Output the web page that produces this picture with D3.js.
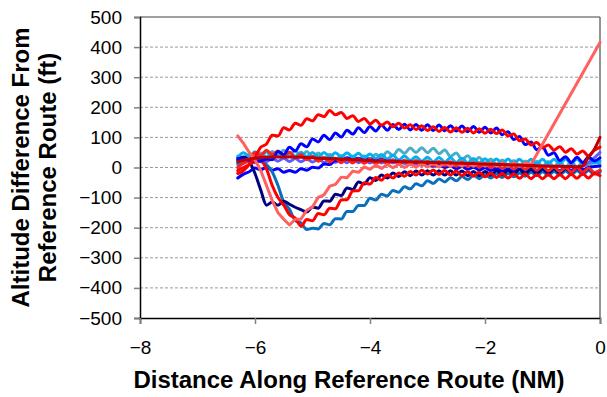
<!DOCTYPE html>
<html>
<head>
<meta charset="utf-8">
<script src="https://cdn.jsdelivr.net/npm/d3@7"></script>
<style>
  html, body { margin: 0; padding: 0; background: #fff; }
  svg { display: block; }
  text { font-family: 'Liberation Sans', Arial, sans-serif; fill: #000; }
</style>
</head>
<body>
<div id="chart"></div>
<script>
const WIDTH = 607
const HEIGHT = 397
const MARGIN = { top: 17, right: 7, bottom: 79, left: 140 }

// Distance along reference route (NM), one sample every 0.1 NM
const DIST = [-6.3,-6.2,-6.1,-6.0,-5.9,-5.8,-5.7,-5.6,-5.5,-5.4,-5.3,-5.2,-5.1,-5.0,-4.9,-4.8,-4.7,-4.6,-4.5,-4.4,
  -4.3,-4.2,-4.1,-4.0,-3.9,-3.8,-3.7,-3.6,-3.5,-3.4,-3.3,-3.2,-3.1,-3.0,-2.9,-2.8,-2.7,-2.6,-2.5,-2.4,
  -2.3,-2.2,-2.1,-2.0,-1.9,-1.8,-1.7,-1.6,-1.5,-1.4,-1.3,-1.2,-1.1,-1.0,-0.9,-0.8,-0.7,-0.6,-0.5,-0.4,
  -0.3,-0.2,-0.1,0]

const X_TICKS = [-8, -6, -4, -2, 0]
const Y_TICKS = [-500, -400, -300, -200, -100, 0, 100, 200, 300, 400, 500]

// altitude difference (ft) per flight, null = no sample (line joins neighbours)
const tealFlight = [38,25,44,30,48,35,53,39,57,42, 56,38,53,34,48,30,44,26,40,23,
  38,22,39,24,44,32,52,40,60,47, 65,50,66,49,64,46,58,37,48,27,
  39,20,33,14,28,10,25,8,23,6, 22,5,21,4,20,3,19,2,18,2, 18,3,19,12]
const cyanFlight = [33,49,37,52,38,52,38,52,37,51, 37,51,36,50,36,50,36,49,35,49,
  35,47,32,45,30,43,28,41,25,38, 23,36,21,34,19,33,18,32,17,31,
  16,30,15,29,15,28,14,28,14,27, 13,27,13,27,13,27,13,28,14,28, 14,29,15,22]
const violetFlight = [10,14,23,16,28,20,30,21,31,20, 30,19,29,18,28,17,27,17,27,16,
  26,16,25,15,25,15,25,15,24,13, 22,11,20,9,18,7,17,6,15,4,
  13,2,11,1,10,0,9,-1,8,-3, 7,-4,6,-5,5,-5,6,-4,7,2, 5,15,32,50]
const blueLowFlight = [-35,-22,-14,-2,-8,1,-9,-4,-16,-10, -16,-4,-9,1,-2,12,10,24,20,32,
  24,31,22,29,20,27,18,25,16,22, 12,18,8,14,4,10,0,6,-4,3,
  -6,1,-8,-1,-10,-3,-12,-5,-14,-6, -14,-5,-13,-4,-12,-3,-10,-1,-9,0, -7,0,3,5]
const steelFlight = [15,20,25,25,20,10,-15,-60,-115,-139, -176,-184,-206,-202,-204,-186,-190,-170,-171,-146,
  -146,-126,-126,-102,-108,-89,-94,-76,-82,-64, -71,-54,-61,-44,-53,-38,-48,-34,-44,-30,
  -40,-26,-37,-24,-35,-22,-33,-20,-31,-18, -29,-16,-27,-14,-26,-13,-25,-12,-24,-11, -23,-10,-22,-15]
const navyFlight = [25,35,20,-20,-75,-125,-115,-125,-112,-122, -132,-140,-148,-131,-135,-111,-112,-89,-93,-68,
  -73,-48,-55,-34,-43,-25,-35,-18,-30,-14, -27,-12,-25,-11,-25,-11,-25,-11,-25,-12,
  -27,-13,-27,-13,-26,-11,-24,-9,-22,-7, -21,-6,-20,-5,-19,-4,-18,-3,-17,-3, -17,-3,-17,-10]
const redMidFlight = [0,15,23,49,41,57,43,55,39,51, 33,43,26,37,21,33,18,31,16,29,
  15,28,14,27,13,26,12,25,11,24, 9,23,8,22,7,20,6,19,4,18,
  3,16,1,14,-1,12,-3,10,-5,8, -7,6,-9,4,-11,2,-13,0,-15,-1, -16,-2,-17,-10]
const redDipFlight = [-10,0,10,20,22,-5,-60,-100,-125,-157, -168,-195,-173,-177,-153,-157,-135,-137,-108,-107,
  -78,-77,-51,-55,-33,-42,-24,-35,-18,-29, -13,-25,-9,-22,-8,-23,-10,-25,-12,-27,
  -14,-29,-16,-31,-18,-33,-20,-35,-21,-36, -22,-37,-23,-37,-23,-37,-23,-37,-22,-36, -21,-35,-20,-27]
const blueHighFlight = [30,28,25,22,22,28,26,53,43,67, 55,79,69,95,85,107,93,115,101,124,
  111,132,116,136,121,141,124,143,126,144, 125,143,124,142,123,141,122,139,121,138,
  119,136,117,134,115,131,109,119,93,103, 76,85,59,69,41,49,23,36,16,34, 16,35,22,32]
const redHighFlight = [-20,-10,10,35,67,78,107,105,132,125, 147,140,162,155,175,169,189,175,183,163,
  172,153,163,145,157,140,151,135,147,131, 142,126,139,123,135,120,133,118,132,117,
  130,115,129,114,127,113,125,105,111,89, 95,75,83,65,75,58,69,51,62,45, 55,38,57,68]
const salmonFlight = [105,80,50,25,-10,-60,-110,-150,-172,-191, -172,-171,-142,-131,-99,-91,-62,-56,-32,-34,
  -12,-16,2,-6,8,-3,10,-1,11,0, 12,1,13,2,14,2,15,3,16,4,
  16,4,16,4,16,4,16,4,16,4, 16,10,null,null,null,null,null,null,null,null, null,null,null,415]
const darkRedFlight = [20,24,28,31,33,34,35,35,35,35, 34,34,33,32,31,30,30,29,28,27,
  26,25,24,23,22,22,21,20,20,19, 19,18,18,17,17,16,16,15,14,14,
  13,13,12,11,11,10,10,9,8,8, 7,7,6,5,5,4,4,3,3,2, 5,35,60,100]

// drawing order: first is at the bottom
const FLIGHTS = [
  { values: tealFlight,     color: '#4BACC6' },
  { values: cyanFlight,     color: '#00B0F0' },
  { values: violetFlight,   color: '#5B5BFF' },
  { values: blueLowFlight,  color: '#0000FF' },
  { values: steelFlight,    color: '#0A70BC' },
  { values: navyFlight,     color: '#000080' },
  { values: redMidFlight,   color: '#FF2020' },
  { values: redDipFlight,   color: '#FF0000' },
  { values: blueHighFlight, color: '#0000FF' },
  { values: redHighFlight,  color: '#FF0000' },
  { values: salmonFlight,   color: '#FF6060', straight: true },
  { values: darkRedFlight,  color: '#C00000' },
]

const FONT = "'Liberation Sans', Arial, sans-serif"

const innerW = WIDTH - MARGIN.left - MARGIN.right
const innerH = HEIGHT - MARGIN.top - MARGIN.bottom

const x = d3.scaleLinear().domain([-8, 0]).range([0, innerW])
const y = d3.scaleLinear().domain([-500, 500]).range([innerH, 0])

const svg = d3.select('#chart').append('svg')
  .attr('width', WIDTH)
  .attr('height', HEIGHT)

const g = svg.append('g').attr('transform', `translate(${MARGIN.left},${MARGIN.top})`)

// dashed gridlines
g.append('g')
  .selectAll('line')
  .data(Y_TICKS.filter(v => v > -500 && v < 500))
  .join('line')
  .attr('x1', 0).attr('x2', innerW)
  .attr('y1', d => y(d)).attr('y2', d => y(d))
  .attr('stroke', '#9a9a9a')
  .attr('stroke-width', 1)
  .attr('stroke-dasharray', '3,2')

// plot border (top / right)
g.append('line')
  .attr('x1', 0).attr('x2', innerW).attr('y1', 0).attr('y2', 0)
  .attr('stroke', '#808080').attr('stroke-width', 1.5)
g.append('line')
  .attr('x1', innerW).attr('x2', innerW).attr('y1', 0).attr('y2', innerH)
  .attr('stroke', '#707070').attr('stroke-width', 1.5)

// flights
const smoothLine = d3.line()
  .x(d => x(d[0]))
  .y(d => y(d[1]))
  .curve(d3.curveMonotoneX)
const straightLine = d3.line()
  .x(d => x(d[0]))
  .y(d => y(d[1]))

g.append('g')
  .selectAll('path')
  .data(FLIGHTS)
  .join('path')
  .attr('fill', 'none')
  .attr('stroke', d => d.color)
  .attr('stroke-width', 3)
  .attr('stroke-linejoin', 'round')
  .attr('stroke-linecap', 'round')
  .attr('d', d => {
    const pts = DIST.map((dist, i) => [dist, d.values[i]]).filter(p => p[1] != null)
    return (d.straight ? straightLine : smoothLine)(pts)
  })

// axes
const yAxis = g.append('g')
  .call(d3.axisLeft(y).tickValues(Y_TICKS).tickSize(6).tickPadding(12))
yAxis.select('.domain').attr('stroke', '#000').attr('stroke-width', 1.5)
yAxis.selectAll('.tick line').attr('stroke', '#808080').attr('stroke-width', 1.5)
yAxis.selectAll('.tick text')
  .attr('font-size', '19px')
  .attr('font-family', FONT)
  .attr('fill', '#000')

const xAxis = g.append('g')
  .attr('transform', `translate(0,${innerH})`)
  .call(d3.axisBottom(x).tickValues(X_TICKS).tickSize(6).tickPadding(17))
xAxis.select('.domain').attr('stroke', '#000').attr('stroke-width', 1.5)
xAxis.selectAll('.tick line').attr('stroke', '#808080').attr('stroke-width', 1.5)
xAxis.selectAll('.tick text')
  .attr('font-size', '19px')
  .attr('font-family', FONT)
  .attr('fill', '#000')

// titles
svg.append('text')
  .attr('x', 349)
  .attr('y', 388)
  .attr('text-anchor', 'middle')
  .attr('font-size', '24px')
  .attr('font-weight', 'bold')
  .text('Distance Along Reference Route (NM)')

const yTitle = svg.append('text')
  .attr('transform', `translate(0,${MARGIN.top + innerH / 2}) rotate(-90)`)
  .attr('text-anchor', 'middle')
  .attr('font-size', '24px')
  .attr('font-weight', 'bold')
yTitle.append('tspan').attr('x', 0).attr('y', 29).text('Altitude Difference From')
yTitle.append('tspan').attr('x', 0).attr('y', 56).text('Reference Route (ft)')
</script>
</body>
</html>
